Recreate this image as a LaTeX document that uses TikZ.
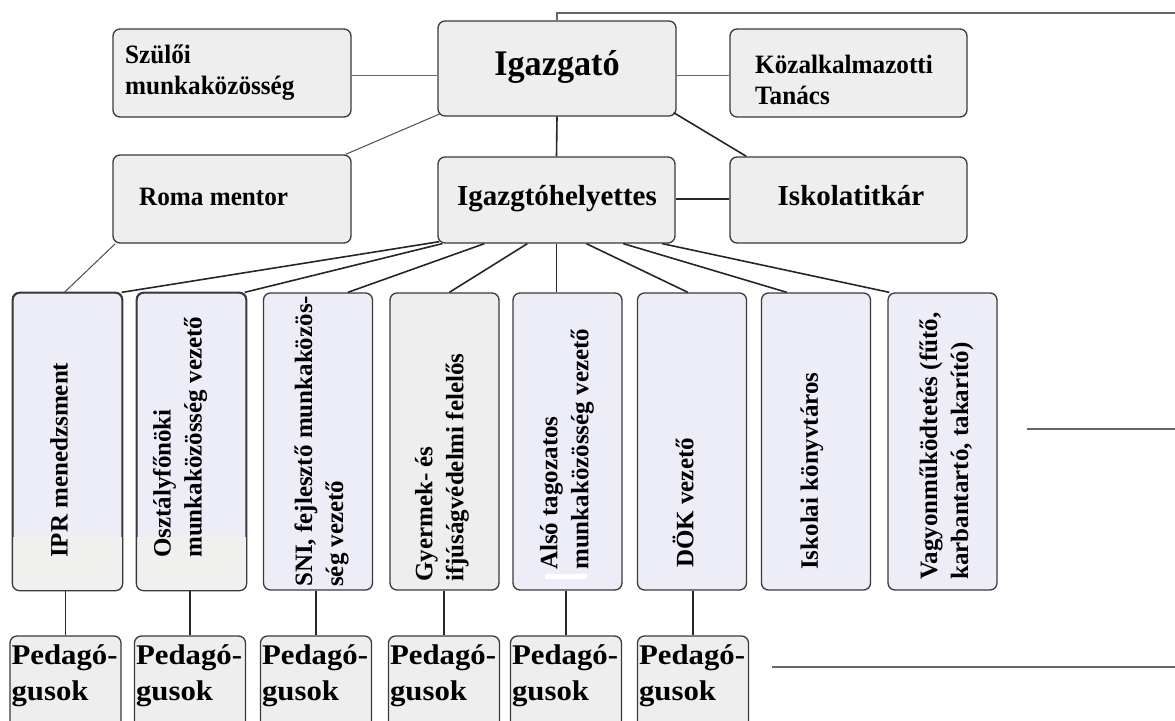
\documentclass[tikz,border=0pt]{standalone}
\usepackage{fontspec}
\setmainfont{Liberation Serif}
\newfontfamily\pedfont[FakeStretch=1.08]{Liberation Serif}
\newfontfamily\narrowfont[FakeStretch=0.95]{Liberation Serif}
\usetikzlibrary{calc}
\definecolor{boxgray}{HTML}{EEEEEE}
\definecolor{boxlav}{HTML}{EDEDF8}
\definecolor{bandgray}{HTML}{F0F0EE}
\definecolor{edgecol}{HTML}{3A3A3A}
\newcommand\setfs[2]{\fontsize{#1}{#2}\selectfont}
\begin{document}
\begin{tikzpicture}[x=1pt,y=-1pt,
  box/.style={draw=edgecol, line width=1.3pt, rounded corners=7pt, fill=boxgray, inner sep=0pt},
  vbox/.style={box, fill=boxlav, minimum width=109pt, minimum height=297pt},
  pbox/.style={box, minimum width=111pt, minimum height=94pt},
  txt/.style={inner sep=0pt, font=\narrowfont\bfseries\setfs{26.5}{31}, align=left},
  vtext/.style={inner sep=0pt, rotate=90, anchor=west, align=left, font=\bfseries\setfs{25}{31}},
  ptext/.style={inner sep=0pt, anchor=west, align=left, font=\pedfont\bfseries\setfs{28.5}{36}},
  link/.style={draw=black!85, line width=1.6pt},
  thin/.style={draw=black!70, line width=1pt},
  grayline/.style={draw=black!60, line width=1.4pt}]
\useasboundingbox (0,0) rectangle (1175,720);
\clip (0,0) rectangle (1175,720);

% top boxes
\node[box, minimum width=238pt, minimum height=88pt] (szul) at (232,73) {};
\node[box, minimum width=238pt, minimum height=95pt] (igaz) at (557,68.5) {};
\node[box, minimum width=237pt, minimum height=88pt] (kozal) at (848.5,73) {};
\node[box, minimum width=238pt, minimum height=88pt] (roma) at (232,199) {};
\node[box, minimum width=237pt, minimum height=86pt] (hely) at (556.5,200) {};
\node[box, minimum width=237pt, minimum height=86pt] (titk) at (848.5,200) {};

\node[txt, anchor=west] (tszul) at (125,73) {Szülői\\munkaközösség};
\node[txt, anchor=west] (tkozal) at (755,80) {Közalkalmazotti\\Tanács};
\node[txt, anchor=base west] (troma) at (139,205) {Roma mentor};
\node[inner sep=0pt, anchor=base, font=\narrowfont\bfseries\setfs{36}{40}] (tigaz) at (557,75) {Igazgató};
\node[inner sep=0pt, anchor=base, font=\bfseries\setfs{29}{34}] (thely) at (557,205) {Igazgtóhelyettes};
\node[inner sep=0pt, anchor=base, font=\bfseries\setfs{29}{34}] (ttitk) at (851,205) {Iskolatitkár};

% vertical boxes
\node[vbox] (v1) at (67.5,441.5) {};
\node[vbox] (v2) at (191.5,441.5) {};
\node[vbox] (v3) at (318,441.5) {};
\node[vbox, fill=boxgray] (v4) at (444.5,441.5) {};
\node[vbox] (v5) at (567.5,441.5) {};
\node[vbox] (v6) at (692,441.5) {};
\node[vbox] (v7) at (816,441.5) {};
\node[vbox] (v8) at (942.5,441.5) {};

% lighter lower band in the first two boxes
\begin{scope}
  \clip[rounded corners=7pt] (v1.south west) rectangle (v1.north east);
  \fill[bandgray] (13,537) rectangle (122,593);
\end{scope}
\begin{scope}
  \clip[rounded corners=7pt] (v2.south west) rectangle (v2.north east);
  \fill[bandgray] (137,537) rectangle (246,593);
\end{scope}
\draw[edgecol, line width=1.3pt, rounded corners=7pt] (v1.south west) rectangle (v1.north east);
\draw[edgecol, line width=1.3pt, rounded corners=7pt] (v2.south west) rectangle (v2.north east);

\node[vtext] (t1) at (59,558) {IPR menedzsment};
\node[vtext] (t2) at (180,558) {Osztályfőnöki\\munkaközösség vezető};
\node[vtext] (t3) at (321.5,587) {SNI, fejlesztő munkaközös-\\ség vezető};
\node[vtext] (t4) at (442,582) {Gyermek- és\\ifjúságvédelmi felelős};
\node[vtext] (t5) at (567,570) {Alsó tagozatos\\munkaközösség vezető};
\node[vtext] (t6) at (683,568) {DÖK vezető};
\node[vtext] (t7) at (812,570) {Iskolai könyvtáros};
\node[vtext] (t8) at (946.5,580) {Vagyonműködtetés (fűtő,\\karbantartó, takarító)};
\fill[white] (545,574) rectangle (587,579);

% Pedagógusok boxes
\node[pbox] (p1) at (65.5,683) {};
\node[pbox] (p2) at (190,683) {};
\node[pbox] (p3) at (316,683) {};
\node[pbox] (p4) at (444,683) {};
\node[pbox] (p5) at (566,683) {};
\node[pbox] (p6) at (693,683) {};
\foreach \i in {1,...,6}{
  \node[ptext] (pt\i) at ($(p\i.west)+(2,-7)$) {Pedagó-\\gusok};
}

% connectors, top part
\coordinate (topend) at (1175,13);
\draw[grayline] (igaz.north) |- (topend);
\draw[grayline] (szul.east |- igaz.west) ++(0,7) coordinate (sa) (szul.east |- sa) -- (igaz.west |- sa);
\draw[grayline] (igaz.east |- sa) -- (kozal.west |- sa);
\draw[link] (igaz.south) -- (hely.north);
\draw[thin] ($(igaz.south west)+(3,-3)$) -- ($(roma.north east)+(-6,0)$);
\draw[link] ($(igaz.south east)+(-3,-4)$) -- ($(titk.north west)+(17,0)$);
\draw[link] ($(hely.east)+(0,-1)$) -- ($(titk.west)+(0,-1)$);
\draw[thin] ($(roma.south west)+(3,0)$) -- ($(v1.north west)+(52,0)$);

% fan from Igazgtóhelyettes
\draw[link] ($(hely.south west)+(2,-2)$) -- ($(v1.north east)+(-1,0)$);
\draw[link] ($(hely.south west)+(5,0)$) -- ($(v2.north east)+(-2,0)$);
\draw[link] ($(hely.south west)+(47,0)$) -- ($(v3.north west)+(85,0)$);
\draw[link] ($(hely.south west)+(90,0)$) -- ($(v4.north west)+(60,0)$);
\draw[link] (hely.south) -- (hely.south |- v5.north);
\draw[link] ($(hely.south west)+(149,0)$) -- ($(v6.north west)+(51,0)$);
\draw[link] ($(hely.south west)+(186,0)$) -- ($(v7.north west)+(26,0)$);
\draw[link] ($(hely.south west)+(225,0)$) -- ($(v8.north west)+(2,0)$);

% to Pedagógusok
\foreach \i in {1,...,6}{
  \draw[link] (p\i.north) -- (p\i.north |- v\i.south);
}

% loose lines on the right
\coordinate (la) at (1027,429);
\coordinate (lb) at (1175,429);
\coordinate (lc) at (772,667);
\coordinate (ld) at (1175,667);
\draw[grayline] (la) -- (lb);
\draw[grayline] (lc) -- (ld);
\end{tikzpicture}
\end{document}
